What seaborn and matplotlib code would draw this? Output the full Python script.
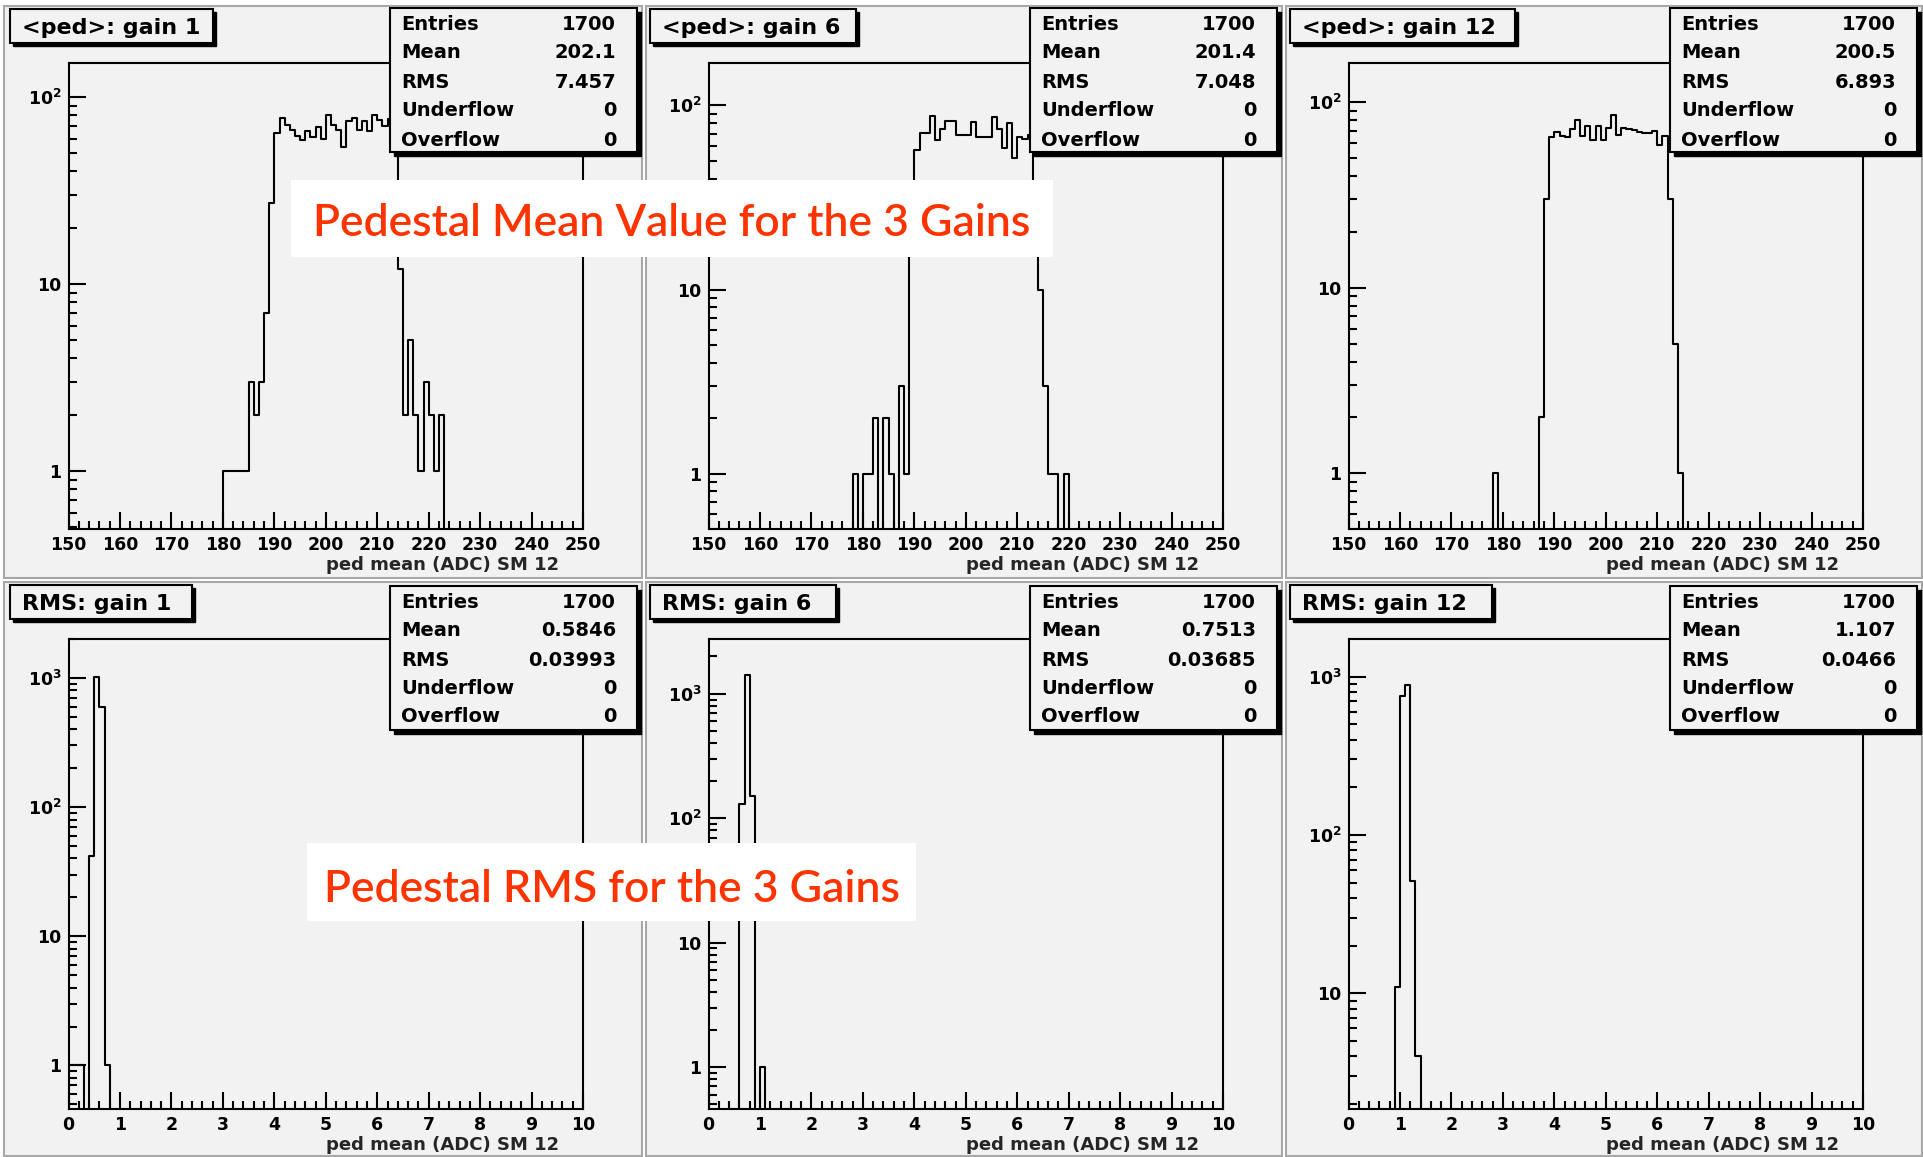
import numpy as np
import pandas as pd
import matplotlib
matplotlib.use("Agg")
import matplotlib.pyplot as plt
import seaborn as sns
from matplotlib.patches import Rectangle
from matplotlib.ticker import FixedLocator, FixedFormatter, MultipleLocator, LogLocator, NullFormatter, FuncFormatter

W, H = 1923, 1157

# --- pedestal mean histograms (1 ADC bins), counts from the first bin on ---
ped_g1_start = 180
ped_g1 = [1, 1, 1, 1, 1, 3, 2, 3, 7, 27,
          64, 77, 71, 67, 62, 59, 66, 61, 69, 60, 80, 71, 67, 54, 74, 77, 67, 74, 66, 80, 75, 70, 76, 68,
          12, 2, 5, 2, 1, 3, 2, 1, 2]
ped_g6_start = 178
ped_g6 = [1, 0, 1, 1, 2, 0, 2, 1, 0, 3, 1, 26,
          57, 71, 71, 88, 65, 74, 82, 82, 69, 69, 69, 81, 67, 67, 67, 86, 74, 59, 80, 52, 67, 66, 69, 25,
          10, 3, 1, 1, 0, 1]
ped_g12_start = 178
ped_g12 = [1, 0, 0, 0, 0, 0, 0, 0, 0, 2, 30,
           65, 69, 66, 65, 72, 80, 66, 75, 63, 75, 63, 73, 85, 67, 73, 72, 71, 69, 68, 68, 70, 59, 66,
           30, 5, 1]

# --- pedestal RMS histograms (0.1 ADC bins) ---
rms_g1_start = 0.0
rms_g1 = [1, 1, 1, 0, 42, 1024, 593, 1]
rms_g6_start = 0.6
rms_g6 = [130, 1420, 150, 0, 1]
rms_g12_start = 0.9
rms_g12 = [11, 750, 885, 51, 4]

titles_ped = ["<ped>: gain 1", "<ped>: gain 6", "<ped>: gain 12"]
titles_rms = ["RMS: gain 1", "RMS: gain 6", "RMS: gain 12"]
stat_names = ["Entries", "Mean", "RMS", "Underflow", "Overflow"]
stats_ped = [["1700", "202.1", "7.457", "0", "0"],
             ["1700", "201.4", "7.048", "0", "0"],
             ["1700", "200.5", "6.893", "0", "0"]]
stats_rms = [["1700", "0.5846", "0.03993", "0", "0"],
             ["1700", "0.7513", "0.03685", "0", "0"],
             ["1700", "1.107", "0.0466", "0", "0"]]
xlabel = "ped mean (ADC) SM 12"
banner_top = "Pedestal Mean Value for the 3 Gains"
banner_bottom = "Pedestal RMS for the 3 Gains"

ylims_ped = [(0.49, 152), (0.5, 170), (0.5, 163)]
ylims_rms = [(0.46, 2000), (0.46, 2760), (1.86, 1730)]

sns.set_style("white")
plt.rcParams["font.family"] = ["DejaVu Sans"]
plt.rcParams["font.weight"] = "bold"
plt.rcParams["mathtext.default"] = "bf"

BG = "#f2f2f2"


def fig_rect(x0, y0, x1, y1):
    return [x0 / W, 1 - y1 / H, (x1 - x0) / W, (y1 - y0) / H]


def draw_hist(ax, start, counts, lo, hi, width):
    nbins = int(round((hi - lo) / width))
    centers = lo + width * (np.arange(nbins) + 0.5)
    n = np.zeros(nbins)
    i0 = int(round((start - lo) / width))
    n[i0:i0 + len(counts)] = counts
    df = pd.DataFrame({"x": centers, "n": n})
    sns.histplot(data=df, x="x", weights="n", binwidth=width, binrange=(lo, hi),
                 element="step", fill=False, color="black", linewidth=1.5, ax=ax)


def style_axes(ax, lo, hi, ylim, major, minor, row_h):
    ax.set_yscale("log")
    ax.set_xlim(lo, hi)
    ax.set_ylim(*ylim)
    ax.set_facecolor(BG)
    for sp in ax.spines.values():
        sp.set_visible(True)
        sp.set_color("black")
        sp.set_linewidth(1.5)
    ax.xaxis.set_major_locator(MultipleLocator(major))
    ax.xaxis.set_minor_locator(MultipleLocator(minor))
    ax.xaxis.set_major_formatter(FuncFormatter(lambda v, _: f"{v:g}"))
    decades = [d for d in [1, 10, 100, 1000] if ylim[0] <= d <= ylim[1]]
    names = {1: "1", 10: "10", 100: "$10^{2}$", 1000: "$10^{3}$"}
    ax.yaxis.set_major_locator(FixedLocator(decades))
    ax.yaxis.set_major_formatter(FixedFormatter([names[d] for d in decades]))
    ax.yaxis.set_minor_locator(LogLocator(base=10, subs=np.arange(2, 10), numticks=20))
    ax.yaxis.set_minor_formatter(NullFormatter())
    ax.tick_params(which="both", direction="in", top=False, right=False,
                   bottom=True, left=True, width=1.5, colors="black")
    ax.tick_params(which="major", length=12)
    ax.tick_params(which="minor", length=6)
    ax.tick_params(axis="x", labelsize=12.5, pad=5)
    ax.tick_params(axis="y", labelsize=12.5, pad=5)
    ax.set_ylabel("")
    ax.set_xlabel(xlabel, fontsize=13, fontweight="bold", loc="right")
    ax.xaxis.set_label_coords((559 - 68.6) / 514.4, -36 / row_h)
    ax.xaxis.label.set_va("center")


fig = plt.figure(figsize=(W / 100, H / 100), dpi=100)
fig.patch.set_facecolor("white")

bg = fig.add_axes([0, 0, 1, 1])
bg.set_zorder(0)
bg.set_xlim(0, W)
bg.set_ylim(H, 0)
bg.axis("off")
pads_x = [(4, 642), (646, 1282), (1286, 1922)]
pads_y = [(6, 578), (582, 1156)]
for (py0, py1) in pads_y:
    for (px0, px1) in pads_x:
        bg.add_patch(Rectangle((px0, py0), px1 - px0, py1 - py0, fc=BG, ec="#a8a8a8", lw=1.5))

ov = fig.add_axes([0, 0, 1, 1])
ov.set_zorder(5)
ov.set_xlim(0, W)
ov.set_ylim(H, 0)
ov.axis("off")
ov.patch.set_visible(False)

offsets = [0, 640, 1280]
rows = [
    dict(frame=(63, 529), lo=150, hi=250, w=1, major=10, minor=2,
         data=[(ped_g1_start, ped_g1), (ped_g6_start, ped_g6), (ped_g12_start, ped_g12)],
         ylims=ylims_ped, titles=titles_ped, stats=stats_ped,
         title_box=(9, 43), title_w=[203, 206, 225], stat_box=(8, 152),
         stat_y=[22, 51, 81, 109, 138]),
    dict(frame=(639, 1109), lo=0, hi=10, w=0.1, major=1, minor=0.2,
         data=[(rms_g1_start, rms_g1), (rms_g6_start, rms_g6), (rms_g12_start, rms_g12)],
         ylims=ylims_rms, titles=titles_rms, stats=stats_rms,
         title_box=(585, 619), title_w=[182, 186, 202], stat_box=(586, 730),
         stat_y=[600, 629, 658, 686, 714]),
]

for row in rows:
    fy0, fy1 = row["frame"]
    for k, off in enumerate(offsets):
        ax = fig.add_axes(fig_rect(68.6 + off, fy0, 583 + off, fy1))
        ax.set_zorder(2)
        start, counts = row["data"][k]
        draw_hist(ax, start, counts, row["lo"], row["hi"], row["w"])
        style_axes(ax, row["lo"], row["hi"], row["ylims"][k], row["major"], row["minor"], fy1 - fy0)

        # title box with ROOT style shadow
        ty0, ty1 = row["title_box"]
        tx0 = 10 + off
        tw = row["title_w"][k]
        ov.add_patch(Rectangle((tx0 + 3, ty0 + 3), tw, ty1 - ty0, fc="black", ec="black", lw=1))
        ov.add_patch(Rectangle((tx0, ty0), tw, ty1 - ty0, fc=BG, ec="black", lw=1.5))
        ov.text(tx0 + 12, (ty0 + ty1) / 2, row["titles"][k], fontsize=16, fontweight="bold",
                ha="left", va="center_baseline", color="black")

        # statistics box
        sy0, sy1 = row["stat_box"]
        sx0, sx1 = 390 + off, 637 + off
        ov.add_patch(Rectangle((sx0 + 4, sy0 + 4), sx1 - sx0, sy1 - sy0, fc="black", ec="black", lw=1))
        ov.add_patch(Rectangle((sx0, sy0), sx1 - sx0, sy1 - sy0, fc=BG, ec="black", lw=1.5))
        for name, val, yy in zip(stat_names, row["stats"][k], row["stat_y"]):
            ov.text(sx0 + 11, yy, name, fontsize=14, fontweight="bold", ha="left",
                    va="center_baseline", color="black")
            ov.text(sx0 + 226, yy, val, fontsize=14, fontweight="bold", ha="right",
                    va="center_baseline", color="black")

# red annotation banners
RED = "#ff3300"
ov.add_patch(Rectangle((291, 180), 762, 77, fc="white", ec="none"))
ov.text(672, 220, banner_top, color=RED, fontsize=32, family="Lato", fontweight="semibold",
        ha="center", va="center_baseline")
ov.add_patch(Rectangle((307, 843), 609, 78, fc="white", ec="none"))
ov.text(612, 885, banner_bottom, color=RED, fontsize=32, family="Lato", fontweight="semibold",
        ha="center", va="center_baseline")

fig.savefig("out.png", dpi=100, facecolor="white")
